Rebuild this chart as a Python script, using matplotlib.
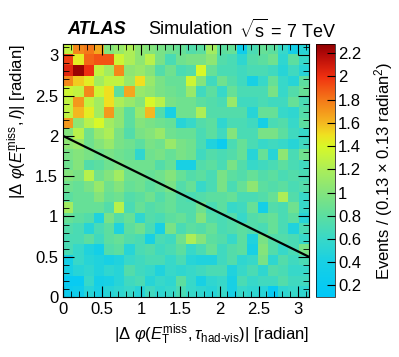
import numpy as np
import matplotlib
matplotlib.use('Agg')
import matplotlib.pyplot as plt
from matplotlib.colors import LinearSegmentedColormap
from matplotlib.ticker import MultipleLocator

plt.rcParams['font.family'] = ['Liberation Sans', 'DejaVu Sans']
plt.rcParams['mathtext.fontset'] = 'custom'
plt.rcParams['mathtext.rm'] = 'Liberation Sans'
plt.rcParams['mathtext.it'] = 'Liberation Sans:italic'
plt.rcParams['mathtext.bf'] = 'Liberation Sans:bold'

# 24 x 24 bins over [0, pi] x [0, pi]; rows listed from top (row 23) to bottom (row 0)
n_bins = 24
rows_top_to_bottom = [
    [1.30, 1.75, 1.80, 1.65, 1.00, 1.10, 1.20, 1.05, 1.00, 0.95, 0.90, 0.85, 0.75, 0.80, 1.15, 0.80, 0.85, 0.30, 0.70, 0.85, 0.80, 0.60, 0.35, 0.50],
    [1.95, 1.45, 1.85, 1.90, 1.90, 1.35, 1.20, 1.05, 1.25, 0.95, 0.70, 0.90, 0.95, 0.95, 1.05, 0.75, 0.70, 0.55, 0.75, 0.80, 0.90, 0.55, 0.80, 0.60],
    [2.05, 2.25, 2.00, 1.30, 1.15, 1.75, 1.05, 1.10, 1.00, 0.75, 0.90, 0.70, 0.75, 1.40, 0.85, 0.70, 0.70, 0.65, 0.70, 0.70, 0.65, 0.50, 0.65, 0.50],
    [1.75, 1.55, 1.45, 1.15, 1.30, 1.30, 1.10, 1.50, 1.10, 0.95, 0.85, 0.85, 1.35, 1.00, 0.65, 0.90, 0.75, 0.65, 0.40, 0.60, 0.85, 0.60, 0.50, 0.80],
    [1.35, 1.30, 1.75, 1.35, 1.50, 0.80, 1.65, 1.10, 1.05, 0.95, 0.90, 0.85, 1.10, 0.65, 0.80, 0.60, 0.85, 0.70, 0.70, 0.70, 0.95, 0.60, 0.75, 0.85],
    [1.30, 1.70, 1.30, 1.15, 1.50, 1.20, 1.10, 1.00, 1.40, 1.25, 0.95, 0.90, 0.90, 0.80, 0.75, 0.70, 1.10, 0.65, 0.65, 0.70, 0.65, 0.65, 0.85, 0.70],
    [1.30, 1.60, 1.45, 1.15, 1.70, 1.05, 0.80, 1.10, 1.60, 0.75, 0.40, 0.90, 0.90, 1.20, 0.75, 0.75, 0.75, 0.75, 0.50, 0.85, 0.85, 0.60, 0.55, 0.75],
    [1.70, 1.05, 1.25, 1.40, 1.15, 1.05, 0.80, 1.00, 0.95, 0.90, 0.85, 0.50, 0.60, 0.75, 0.80, 0.55, 0.70, 0.70, 0.65, 0.35, 0.70, 0.75, 0.60, 0.80],
    [1.00, 1.25, 0.90, 1.10, 1.20, 0.95, 0.75, 0.95, 1.00, 1.10, 0.90, 0.85, 0.85, 0.70, 0.80, 0.65, 1.00, 0.70, 0.70, 0.95, 0.95, 0.80, 0.65, 0.60],
    [1.05, 1.10, 0.90, 1.00, 1.10, 0.95, 0.90, 0.80, 0.95, 0.90, 1.10, 0.95, 0.90, 0.70, 0.45, 0.25, 0.70, 0.85, 0.70, 0.60, 0.65, 0.60, 0.50, 0.65],
    [0.95, 1.00, 0.95, 0.90, 0.95, 0.90, 0.85, 0.55, 0.90, 0.95, 0.85, 0.95, 0.90, 0.65, 0.75, 0.70, 0.75, 0.85, 0.50, 0.85, 0.50, 1.05, 0.70, 0.90],
    [0.90, 1.00, 0.75, 0.80, 0.90, 0.95, 0.90, 0.90, 0.90, 0.75, 0.85, 0.40, 0.40, 0.75, 0.80, 0.70, 0.95, 0.75, 0.60, 0.65, 0.70, 0.80, 0.70, 0.65],
    [1.00, 0.95, 1.25, 0.90, 1.00, 1.15, 0.90, 0.90, 0.85, 0.90, 1.00, 0.85, 0.75, 0.80, 0.70, 0.95, 0.80, 0.75, 0.85, 0.75, 0.80, 0.70, 0.75, 0.70],
    [0.90, 0.85, 0.95, 1.10, 0.90, 1.00, 0.85, 0.90, 0.80, 0.85, 0.95, 0.75, 0.85, 0.60, 0.70, 0.95, 0.70, 0.85, 1.05, 0.80, 0.75, 0.80, 0.70, 0.75],
    [0.80, 0.85, 0.85, 1.00, 0.85, 0.90, 0.75, 0.80, 0.90, 0.75, 0.85, 0.75, 0.70, 0.75, 0.80, 0.80, 0.85, 0.70, 0.70, 0.75, 0.85, 1.20, 0.75, 0.60],
    [1.15, 0.85, 0.85, 0.85, 0.75, 1.25, 0.70, 0.85, 0.75, 0.80, 0.85, 0.75, 0.75, 0.90, 0.70, 0.80, 0.60, 0.65, 0.85, 0.35, 0.75, 0.70, 0.90, 0.60],
    [0.85, 0.80, 0.75, 0.45, 0.95, 0.75, 0.85, 0.55, 0.75, 0.70, 0.80, 0.85, 0.75, 1.00, 0.75, 0.70, 0.75, 0.60, 0.75, 0.80, 0.85, 0.70, 0.80, 0.50],
    [0.75, 0.70, 0.50, 0.70, 0.80, 0.45, 0.80, 0.90, 0.70, 0.40, 0.95, 0.70, 0.80, 0.75, 0.85, 0.70, 0.75, 0.80, 0.75, 0.70, 0.85, 0.70, 0.45, 0.70],
    [0.70, 0.70, 0.80, 0.65, 0.80, 0.85, 0.75, 0.70, 0.40, 0.70, 0.65, 0.90, 1.20, 1.00, 0.80, 0.75, 0.60, 0.80, 0.45, 0.95, 0.75, 0.75, 0.70, 0.60],
    [0.70, 0.60, 0.45, 0.35, 0.75, 0.80, 0.50, 0.70, 0.75, 0.65, 0.70, 0.80, 0.60, 0.70, 0.85, 0.65, 0.75, 0.80, 0.40, 1.00, 0.75, 0.60, 0.70, 0.95],
    [0.35, 0.60, 0.50, 0.45, 0.40, 0.45, 0.60, 0.65, 0.70, 0.70, 0.60, 0.70, 0.50, 0.45, 0.45, 0.65, 0.75, 0.55, 0.60, 0.95, 0.55, 0.75, 0.65, 0.70],
    [0.40, 0.50, 0.55, 0.45, 0.55, 0.50, 0.75, 0.65, 0.60, 0.45, 0.60, 0.55, 0.60, 0.65, 0.70, 0.70, 0.45, 0.60, 0.70, 0.55, 0.75, 0.70, 0.60, 0.60],
    [0.20, 0.20, 0.60, 0.35, 0.40, 0.50, 0.65, 0.70, 0.50, 0.60, 0.55, 0.80, 0.60, 0.40, 0.55, 0.60, 0.40, 0.70, 0.60, 0.65, 0.65, 0.75, 0.65, 0.65],
    [0.25, 0.30, 0.50, 0.40, 0.50, 0.55, 0.60, 0.50, 0.65, 0.55, 0.60, 0.70, 0.60, 0.55, 0.50, 0.60, 0.40, 0.60, 0.55, 0.50, 0.20, 0.55, 0.60, 0.55],
]

# cut line drawn on the plot
line_x = [0.0, np.pi]
line_y = [2.0, 0.5]

z_min, z_max = 0.1, 2.28
cbar_ticks = [0.2, 0.4, 0.6, 0.8, 1.0, 1.2, 1.4, 1.6, 1.8, 2.0, 2.2]
cbar_labels = ['0.2', '0.4', '0.6', '0.8', '1', '1.2', '1.4', '1.6', '1.8', '2', '2.2']
axis_ticks = [0, 0.5, 1, 1.5, 2, 2.5, 3]
axis_labels = ['0', '0.5', '1', '1.5', '2', '2.5', '3']

# ROOT-like palette: cyan -> green -> yellow -> orange -> red -> dark red
stops = [
    (0.10, '#00c8f8'),
    (0.40, '#18d0e4'),
    (0.60, '#38d8c8'),
    (0.80, '#5cdea0'),
    (1.00, '#84e47c'),
    (1.20, '#acee58'),
    (1.40, '#d8f828'),
    (1.50, '#f0e020'),
    (1.60, '#f4b820'),
    (1.80, '#f47818'),
    (2.00, '#f03010'),
    (2.20, '#b00808'),
    (2.28, '#900000'),
]
cmap = LinearSegmentedColormap.from_list(
    'rootpal', [((v - z_min) / (z_max - z_min), c) for v, c in stops])

z = np.array(rows_top_to_bottom)[::-1]
edges = np.linspace(0, np.pi, n_bins + 1)

fig = plt.figure(figsize=(3.99, 3.57), dpi=100)
ax = fig.add_axes([0.158, 0.168, 0.616, 0.709])
cax = fig.add_axes([0.792, 0.168, 0.048, 0.709])

mesh = ax.pcolormesh(edges, edges, z, cmap=cmap, vmin=z_min, vmax=z_max)
ax.plot(line_x, line_y, color='black', lw=1.6)

ax.set_xlim(0, np.pi)
ax.set_ylim(0, np.pi)
for axis in (ax.xaxis, ax.yaxis):
    axis.set_minor_locator(MultipleLocator(0.1))
ax.set_xticks(axis_ticks)
ax.set_xticklabels(axis_labels)
ax.set_yticks(axis_ticks)
ax.set_yticklabels(axis_labels)
ax.tick_params(which='both', direction='in', top=True, right=True, labelsize=12)
ax.tick_params(which='major', length=8)
ax.tick_params(which='minor', length=4)

ax.set_xlabel(r'$|\Delta\ \varphi(E_{\mathrm{T}}^{\mathrm{miss}}, \tau_{\mathrm{had\text{-}vis}})|$ [radian]',
              fontsize=12, loc='right')
ax.set_ylabel(r'$|\Delta\ \varphi(E_{\mathrm{T}}^{\mathrm{miss}}, l)|$ [radian]',
              fontsize=12, loc='top')

cb = fig.colorbar(mesh, cax=cax)
cb.set_ticks(cbar_ticks)
cb.set_ticklabels(cbar_labels)
cax.tick_params(direction='in', length=6, labelsize=12, pad=2)
cb.outline.set_linewidth(0.5)
cb.set_label(r'Events / (0.13 $\times$ 0.13 radian$^{2}$)', fontsize=12, labelpad=8)

fig.text(0.170, 0.916, 'ATLAS', fontsize=13, fontweight='bold', fontstyle='italic', va='center')
fig.text(0.371, 0.916, 'Simulation', fontsize=13, va='center')
fig.text(0.599, 0.916, r'$\sqrt{\mathrm{s}}$ = 7 TeV', fontsize=13, va='center')

fig.savefig('out.png', dpi=100)
